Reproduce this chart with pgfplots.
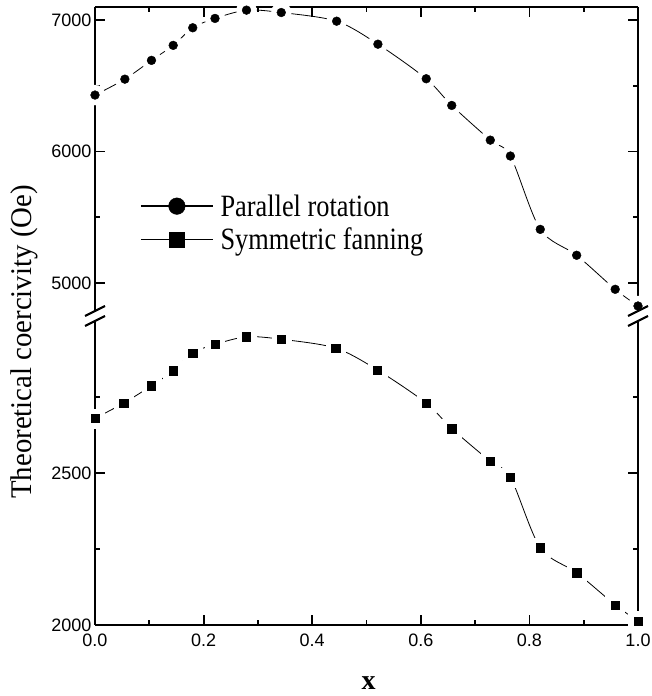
\documentclass[border=0pt]{standalone}
\usepackage{fontspec}
\setmainfont{Liberation Serif}
\setsansfont{Liberation Sans}
\newfontfamily\legfont[FakeStretch=0.85]{Liberation Serif}
\newfontfamily\labfont[FakeStretch=0.96]{Liberation Serif}
\usepackage{pgfplots}
\usepackage{pgfplotstable}
\pgfplotsset{compat=1.18}

\pgfplotstableread{
x y
0.000 6430
0.055 6551
0.104 6694
0.144 6808
0.180 6942
0.221 7013
0.279 7076
0.343 7058
0.445 6992
0.521 6817
0.610 6554
0.657 6351
0.728 6087
0.765 5966
0.820 5408
0.887 5211
0.958 4952
1.000 4825
}\parallelrot

\pgfplotstableread{
x y
0.000 2680
0.053 2730
0.104 2787
0.144 2836
0.180 2895
0.221 2923
0.279 2948
0.343 2940
0.443 2911
0.520 2839
0.610 2730
0.657 2646
0.728 2538
0.765 2486
0.820 2254
0.887 2172
0.958 2066
1.000 2013
}\symfan

\pgfplotsset{
  brk/.style={
    scale only axis, width=543pt, height=304pt,
    xmin=0, xmax=1,
    clip=false, axis on top,
    tick align=inside,
    major tick length=10pt, minor tick length=5pt,
    axis line style={line width=2pt, black},
    tick style={line width=1.8pt, black},
    xtick={0,0.2,0.4,0.6,0.8,1.0},
    minor xtick={0.1,0.3,0.5,0.7,0.9},
    ticklabel style={font=\fontsize{18}{20}\selectfont\sffamily},
    /pgf/number format/assume math mode=true,
    yticklabel style={/pgf/number format/1000 sep={}},
    xticklabel style={/pgf/number format/.cd, fixed, fixed zerofill, precision=1, /tikz/.cd, yshift=-5pt},
  },
  curve/.style={black, line width=0.8pt, smooth, forget plot},
}

\begin{document}
\begin{tikzpicture}
% upper panel
\begin{axis}[brk,
  at={(0pt,314pt)}, anchor=south west,
  axis x line*=top,
  xticklabels={},
  ymin=4787, ymax=7100,
  ytick={5000,6000,7000},
  minor ytick={5500,6500},
  legend style={draw=none, fill=none, at={(axis description cs:0.083,0.390)}, anchor=north west,
    inner sep=0pt, row sep=6.5pt, font=\legfont\fontsize{31}{34}\selectfont,
    /tikz/every odd column/.append style={column sep=5pt}},
  legend cell align=left,
]
\addplot[curve] table {\parallelrot};
\addplot[only marks, mark=*, mark size=10pt, white, forget plot] table {\parallelrot};
\addplot[only marks, mark=*, mark size=4.4pt, black, forget plot] table {\parallelrot};
\addlegendimage{legend image code/.code={\draw[line width=1.3pt] (0pt,0pt) -- (72pt,0pt); \fill (36pt,0pt) circle (8.3pt);}}
\addlegendentry{Parallel rotation}
\addlegendimage{legend image code/.code={\draw[line width=1.3pt] (0pt,0pt) -- (72pt,0pt); \fill (28.5pt,-7.5pt) rectangle (43.5pt,7.5pt);}}
\addlegendentry{Symmetric fanning}
\end{axis}
% lower panel
\begin{axis}[brk,
  at={(0pt,0pt)}, anchor=south west,
  axis x line*=bottom,
  ymin=2000, ymax=3000,
  ytick={2000,2500},
  minor ytick={2250,2750},
  xlabel={\textbf{x}},
  xlabel style={at={(axis description cs:0.504,-0.2138)}, anchor=base, font=\fontsize{28}{30}\selectfont},
  ylabel={Theoretical coercivity (Oe)},
  ylabel style={at={(axis description cs:-0.1166,0.931)}, anchor=base, font=\labfont\fontsize{30}{32}\selectfont},
]
\addplot[curve] table {\symfan};
\addplot[only marks, mark=square*, mark size=9.5pt, white, forget plot] table {\symfan};
\addplot[only marks, mark=square*, mark size=4.2pt, black, forget plot] table {\symfan};
\end{axis}
% axis break marks
\foreach \xx in {0pt,543pt}{
  \draw[line width=2.2pt] ([xshift=\xx]-10pt,309pt) -- ([xshift=\xx]10pt,319pt);
  \draw[line width=2.2pt] ([xshift=\xx]-10pt,299pt) -- ([xshift=\xx]10pt,309pt);
}
\pgfresetboundingbox
\path[use as bounding box] (-95pt,-71pt) rectangle (556pt,625pt);
\end{tikzpicture}
\end{document}
